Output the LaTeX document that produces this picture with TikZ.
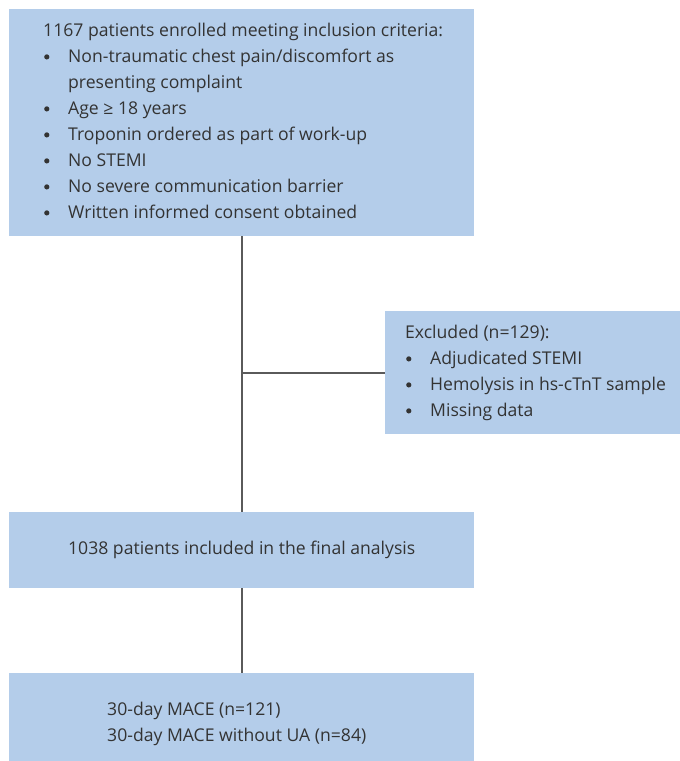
\documentclass[tikz,border=0pt]{standalone}
\usepackage{fontspec}
\setmainfont{Open Sans}
\definecolor{boxfill}{HTML}{B4CDEA}
\definecolor{txt}{HTML}{333333}
\definecolor{wire}{HTML}{5A5A5A}
\newcommand{\dotmark}{\hspace{1pt}\tikz[baseline=-5.5pt]\fill[txt] (0,0) circle (2.6pt);}
\begin{document}
\begin{tikzpicture}[x=1pt,y=-1pt,
  panel/.style={fill=boxfill, draw=none, inner sep=0pt, anchor=north west},
  label/.style={text=txt, font=\fontsize{17.6}{26}\selectfont, inner sep=0pt, align=left},
  link/.style={draw=wire, line width=1.6pt}]
\useasboundingbox (0,0) rectangle (680,761);
% boxes
\node[panel, minimum width=465pt, minimum height=227pt] (enrol) at (9,9) {};
\node[panel, minimum width=295pt, minimum height=123pt] (excl) at (385,311) {};
\node[panel, minimum width=465pt, minimum height=76pt] (final) at (9,512) {};
\node[panel, minimum width=465pt, minimum height=88pt] (mace) at (9,673) {};
% connectors
\coordinate (branch) at (242,373);
\draw[link] (enrol.south) -- (final.north);
\draw[link] (branch) -- (branch -| excl.west);
\draw[link] (final.south) -- (mace.north);
% texts
\node[label, anchor=north west] (enroltxt) at (43,18) {%
  \begin{tabular}{@{}p{25pt}@{}l@{}}
  \multicolumn{2}{@{}l@{}}{1167 patients enrolled meeting inclusion criteria:}\\
  \dotmark & Non-traumatic chest pain/discomfort as\\
   & presenting complaint\\
  \dotmark & Age ≥ 18 years\\
  \dotmark & Troponin ordered as part of work-up\\
  \dotmark & No STEMI\\
  \dotmark & No severe communication barrier\\
  \dotmark & Written informed consent obtained
  \end{tabular}};
\node[label, anchor=north west] (excltxt) at (405,320) {%
  \begin{tabular}{@{}p{25pt}@{}l@{}}
  \multicolumn{2}{@{}l@{}}{Excluded (n=129):}\\
  \dotmark & Adjudicated STEMI\\
  \dotmark & Hemolysis in hs-cTnT sample\\
  \dotmark & Missing data
  \end{tabular}};
\node[label] (finaltxt) at (final.center) {1038 patients included in the final analysis};
\node[label, anchor=north west] (macetxt) at (107,702) {%
  30-day MACE (n=121)\\30-day MACE without UA (n=84)};
\end{tikzpicture}
\end{document}
